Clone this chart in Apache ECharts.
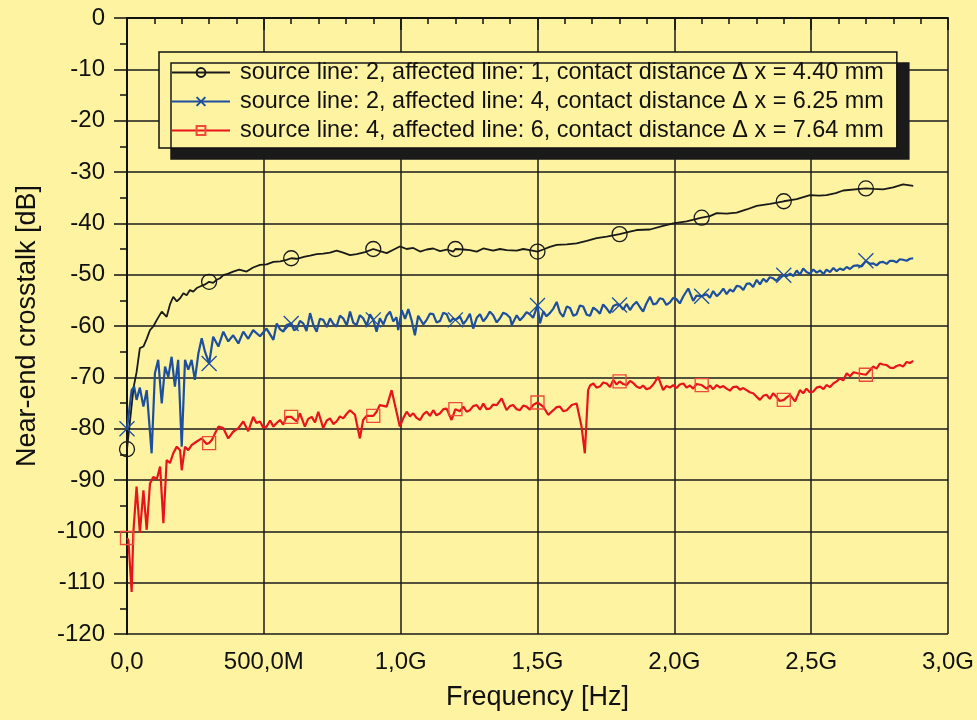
<!DOCTYPE html>
<html>
<head>
<meta charset="utf-8">
<script src="https://cdn.jsdelivr.net/npm/echarts@6/dist/echarts.min.js"></script>
<style>
  html, body { margin: 0; padding: 0; background: #fdf3a0; }
  #chart { width: 977px; height: 720px; }
</style>
</head>
<body>
<div id="chart"></div>
<script>
// frequency in GHz, crosstalk in dB
const xTickLabels = ['0,0', '500,0M', '1,0G', '1,5G', '2,0G', '2,5G', '3,0G'];
const seriesNames = [
  'source line: 2, affected line: 1, contact distance \u0394 x = 4.40 mm',
  'source line: 2, affected line: 4, contact distance \u0394 x = 6.25 mm',
  'source line: 4, affected line: 6, contact distance \u0394 x = 7.64 mm'
];

// marker positions (every 300 MHz)
const markFreqs = [0, 0.3, 0.6, 0.9, 1.2, 1.5, 1.8, 2.1, 2.4, 2.7];
const blackMarks = [-84, -51.4, -46.8, -45.0, -45.0, -45.5, -42.1, -38.9, -35.7, -33.2];
const blueMarks = [-80, -67.3, -59.5, -58.8, -58.8, -56.0, -55.9, -54.2, -50.1, -47.3];
const redMarks = [-101.3, -82.8, -77.7, -77.5, -76.2, -74.9, -70.8, -71.5, -74.4, -69.5];

const blackLine = [
  [0.012, -78], [0.024, -72], [0.035, -69], [0.047, -64.3], [0.060, -64], [0.072, -62.5],
  [0.084, -60.8], [0.096, -60.1], [0.109, -58.8], [0.127, -57.2], [0.145, -58.2], [0.157, -55.8],
  [0.169, -54.3], [0.182, -55.2], [0.194, -54.6], [0.206, -53.6], [0.218, -54], [0.230, -53.0],
  [0.242, -53.3], [0.255, -52.6], [0.267, -52.3], [0.285, -51.9], [0.315, -51.6], [0.328, -51],
  [0.340, -50.7], [0.352, -50.1], [0.370, -49.8], [0.388, -49.4], [0.410, -49.0], [0.437, -49.4],
  [0.461, -48.6], [0.486, -48.1], [0.510, -48.0], [0.535, -47.5], [0.560, -47.4], [0.583, -47.1],
  [0.620, -46.9], [0.650, -46.5], [0.669, -46.3], [0.693, -46], [0.717, -45.9], [0.742, -45.7],
  [0.766, -45.3], [0.790, -45.7], [0.815, -46.2], [0.839, -46.0], [0.870, -45.6], [0.924, -45.4],
  [0.949, -45.8], [0.975, -45.1], [0.997, -44.5], [1.022, -45.0], [1.046, -44.8], [1.071, -45.5],
  [1.095, -45.1], [1.119, -44.9], [1.144, -45.4], [1.168, -45.1], [1.192, -45.5], [1.229, -45.1],
  [1.253, -45.2], [1.278, -45.5], [1.302, -44.9], [1.338, -45.3], [1.363, -45.0], [1.387, -45.2],
  [1.424, -45.3], [1.448, -45.0], [1.472, -45.2], [1.521, -45.1], [1.545, -44.6], [1.570, -44.2],
  [1.607, -44.1], [1.643, -43.9], [1.680, -43.4], [1.716, -42.9], [1.753, -42.6], [1.838, -41.6],
  [1.862, -41.3], [1.911, -41.2], [1.959, -40.5], [1.996, -40], [2.045, -39.6], [2.130, -38.6],
  [2.155, -38], [2.191, -38.1], [2.228, -37.9], [2.264, -37.3], [2.301, -36.6], [2.350, -36.2],
  [2.447, -35.3], [2.496, -34.5], [2.530, -34.6], [2.556, -34.5], [2.590, -34.1], [2.617, -33.6],
  [2.727, -33.3], [2.763, -33.4], [2.800, -33.0], [2.836, -32.4], [2.873, -32.7]
];

const blueLine = [
  [0.017, -72.5], [0.026, -71.8], [0.035, -74.4], [0.047, -72], [0.060, -75.7], [0.072, -72.5],
  [0.090, -84.8], [0.102, -69.2], [0.114, -66.6], [0.127, -75.1], [0.139, -67.9], [0.151, -69.9],
  [0.163, -66], [0.175, -71.8], [0.187, -66.6], [0.200, -83.5], [0.212, -66.6], [0.224, -68.5],
  [0.236, -66.6], [0.248, -70.5], [0.261, -65.3], [0.273, -62.4], [0.285, -65], [0.315, -62.1],
  [0.334, -64], [0.352, -61.1], [0.370, -63], [0.388, -61.8], [0.407, -63.4], [0.425, -61.1],
  [0.443, -62.5], [0.461, -60.8], [0.486, -62], [0.510, -60.5], [0.535, -62.7], [0.547, -59.5],
  [0.559, -60.6], [0.571, -61.1], [0.583, -59.8], [0.610, -60.8], [0.620, -60.6], [0.632, -59.0],
  [0.644, -59.5], [0.656, -61.0], [0.669, -57.5], [0.681, -59.8], [0.693, -61.1], [0.705, -58.6],
  [0.717, -58.8], [0.730, -60.2], [0.742, -58.5], [0.754, -59.6], [0.766, -60.1], [0.778, -58.0],
  [0.790, -58.5], [0.803, -59.9], [0.815, -57.2], [0.827, -59.4], [0.839, -59.8], [0.851, -57.9],
  [0.863, -58.5], [0.876, -59.9], [0.888, -57.7], [0.912, -61.1], [0.924, -58.5], [0.937, -59.7],
  [0.949, -58.0], [0.961, -57.2], [0.973, -59.1], [0.985, -58.3], [0.991, -60.8], [1.004, -56.9],
  [1.016, -58.6], [1.028, -56.7], [1.040, -58.9], [1.052, -61.8], [1.064, -58.0], [1.071, -58.2],
  [1.083, -59.7], [1.095, -58.8], [1.107, -57.6], [1.119, -57.7], [1.131, -59.3], [1.144, -59],
  [1.156, -57.4], [1.168, -57.7], [1.180, -59.2], [1.192, -58.5], [1.217, -58.2], [1.229, -59.6],
  [1.241, -58.8], [1.253, -57.6], [1.265, -60.5], [1.278, -58.4], [1.290, -57.7], [1.302, -59.1],
  [1.314, -58.3], [1.326, -57.2], [1.338, -57.9], [1.351, -59.3], [1.363, -58.5], [1.375, -57.4],
  [1.387, -57.7], [1.400, -58.4], [1.406, -59.8], [1.424, -57.9], [1.436, -58.9], [1.448, -58.2],
  [1.460, -57.3], [1.472, -57.7], [1.484, -58.4], [1.509, -59.5], [1.521, -57.2], [1.533, -58.1],
  [1.545, -57.5], [1.558, -56.6], [1.570, -55.3], [1.582, -57.4], [1.594, -58.2], [1.607, -56.2],
  [1.619, -56.5], [1.631, -58.0], [1.643, -57.7], [1.655, -56.0], [1.667, -56.2], [1.680, -57.8],
  [1.692, -58], [1.704, -56.4], [1.716, -56.9], [1.728, -57.6], [1.740, -55.8], [1.753, -56.6],
  [1.765, -57.5], [1.777, -56.1], [1.789, -55.8], [1.813, -56.8], [1.826, -55.7], [1.838, -56.9],
  [1.850, -55.9], [1.862, -55.3], [1.874, -56.3], [1.886, -57.2], [1.898, -55.6], [1.911, -54.3],
  [1.923, -55.8], [1.935, -55.6], [1.947, -54.6], [1.959, -54.8], [1.971, -55.9], [1.984, -55.4],
  [1.996, -54.5], [2.008, -54.8], [2.020, -55.6], [2.033, -54.2], [2.051, -52.7], [2.069, -55.1],
  [2.081, -54.1], [2.118, -53.8], [2.130, -54.5], [2.142, -53.2], [2.155, -54.2], [2.167, -53.6],
  [2.179, -52.7], [2.191, -53.8], [2.203, -52.9], [2.215, -53.3], [2.228, -52.2], [2.240, -52.3],
  [2.252, -53.0], [2.264, -51.8], [2.276, -51.7], [2.288, -52.4], [2.301, -51], [2.313, -51.9],
  [2.325, -50.8], [2.337, -51.4], [2.349, -50.5], [2.361, -50.7], [2.373, -51.2], [2.385, -50.4],
  [2.411, -50.3], [2.423, -49.8], [2.435, -50.3], [2.447, -49.2], [2.459, -50.0], [2.471, -48.8],
  [2.483, -49.5], [2.496, -49.8], [2.508, -49.0], [2.520, -49.6], [2.533, -49.2], [2.545, -49.9],
  [2.556, -49.0], [2.569, -49.5], [2.581, -48.7], [2.593, -49.3], [2.605, -48.8], [2.617, -49.1],
  [2.630, -48.5], [2.642, -48.9], [2.655, -48.3], [2.669, -48.2], [2.685, -48.4], [2.715, -47.9],
  [2.727, -47.8], [2.739, -48.2], [2.751, -47.6], [2.763, -47.5], [2.776, -47.9], [2.788, -47.3],
  [2.800, -47.3], [2.812, -47.6], [2.824, -47.0], [2.836, -47.1], [2.849, -47.3], [2.861, -46.9],
  [2.873, -46.8]
];

const redLine = [
  [0.005, -101.7], [0.017, -111.8], [0.023, -100.4], [0.035, -91.3], [0.047, -100.3], [0.060, -92],
  [0.072, -99.7], [0.084, -90.7], [0.096, -89.4], [0.109, -89.8], [0.121, -87.4], [0.133, -98.4],
  [0.145, -86.1], [0.157, -86.7], [0.169, -84.8], [0.182, -83.5], [0.194, -84.2], [0.200, -88.1],
  [0.212, -83.5], [0.224, -84.2], [0.236, -83.2], [0.255, -82.5], [0.273, -81.9], [0.291, -83],
  [0.310, -82.2], [0.322, -80.9], [0.334, -79.6], [0.352, -79.9], [0.370, -81.9], [0.388, -80.6],
  [0.407, -79.9], [0.425, -78.6], [0.443, -80.5], [0.461, -77.7], [0.473, -78.9], [0.486, -78.6],
  [0.498, -79.8], [0.510, -79.6], [0.523, -78.4], [0.535, -79.6], [0.547, -78.9], [0.559, -78.3],
  [0.571, -79.2], [0.583, -77.7], [0.620, -78.6], [0.632, -77], [0.650, -79.6], [0.662, -78.1],
  [0.675, -77.7], [0.687, -78.8], [0.699, -76.7], [0.717, -79.9], [0.730, -78.4], [0.742, -78],
  [0.754, -79.1], [0.766, -78.6], [0.778, -77.6], [0.790, -78], [0.803, -77.1], [0.815, -76.4],
  [0.833, -77.3], [0.851, -81.9], [0.863, -78.3], [0.876, -77.5], [0.912, -76.7], [0.924, -75.4],
  [0.949, -75.7], [0.967, -72.5], [0.997, -79.6], [1.010, -77.9], [1.022, -76.7], [1.034, -77.6],
  [1.046, -77], [1.058, -77.9], [1.071, -78.3], [1.083, -77.2], [1.095, -76.7], [1.107, -77.5],
  [1.119, -76.4], [1.131, -77.4], [1.144, -77], [1.156, -76.2], [1.168, -76.1], [1.186, -78.3],
  [1.217, -76.6], [1.229, -75.7], [1.241, -76.7], [1.253, -76.4], [1.265, -75.6], [1.278, -75.4],
  [1.290, -76.3], [1.302, -75.1], [1.314, -76.2], [1.326, -76.1], [1.338, -75.3], [1.351, -75.4],
  [1.369, -74.1], [1.387, -76.4], [1.399, -75.6], [1.411, -75.4], [1.424, -76.2], [1.436, -76.4],
  [1.448, -75.5], [1.460, -75.7], [1.472, -76.3], [1.484, -75.4], [1.521, -75.7], [1.539, -77.3],
  [1.558, -76.4], [1.570, -75.8], [1.582, -75.7], [1.594, -76.6], [1.607, -76.4], [1.625, -75.4],
  [1.643, -75.1], [1.661, -79.6], [1.673, -84.8], [1.685, -72.5], [1.692, -71.6], [1.704, -71.2],
  [1.716, -72.0], [1.728, -71.8], [1.740, -71.0], [1.753, -71.2], [1.765, -71.9], [1.777, -70.5],
  [1.789, -71.4], [1.813, -71.3], [1.826, -71.5], [1.838, -70.7], [1.850, -71.1], [1.862, -71.8],
  [1.874, -72.1], [1.886, -71.6], [1.898, -72.3], [1.911, -72.1], [1.923, -71.4], [1.941, -69.9],
  [1.959, -72.5], [1.971, -71.7], [1.984, -72.0], [1.996, -71.5], [2.008, -72.1], [2.020, -71.4],
  [2.033, -71.2], [2.045, -72.0], [2.057, -71.6], [2.069, -72.2], [2.081, -71.3], [2.118, -72.2],
  [2.130, -71.6], [2.142, -72.3], [2.155, -71.5], [2.167, -72.0], [2.179, -71.7], [2.191, -72.2],
  [2.203, -72.6], [2.215, -71.9], [2.228, -71.8], [2.240, -72.4], [2.252, -72.1], [2.264, -72.5],
  [2.276, -72.9], [2.288, -73.1], [2.301, -73.8], [2.313, -74.4], [2.325, -73.6], [2.337, -73.4],
  [2.349, -74.2], [2.361, -73.1], [2.373, -73.8], [2.385, -74.6], [2.411, -73.9], [2.423, -73.4],
  [2.441, -74.7], [2.459, -72.5], [2.471, -73.1], [2.483, -72.2], [2.495, -72.9], [2.507, -72.8],
  [2.520, -72.0], [2.533, -71.8], [2.545, -72.3], [2.556, -71.5], [2.569, -71.9], [2.581, -71.2],
  [2.593, -70.8], [2.605, -70.2], [2.617, -70.6], [2.630, -69.2], [2.642, -69.8], [2.655, -69.0],
  [2.669, -69.2], [2.715, -68.6], [2.727, -67.9], [2.739, -68.3], [2.751, -67.3], [2.763, -67.5],
  [2.776, -67.6], [2.788, -68.1], [2.800, -68.2], [2.812, -67.8], [2.824, -67.6], [2.836, -67.9],
  [2.849, -67], [2.861, -67.2], [2.873, -66.8]
];

const bgColor = '#fdf3a0';
const fontFamily = '"Liberation Sans", Arial, Helvetica, sans-serif';

// merge line points with marker points, markers get the symbol
function buildData(line, marks) {
  const pts = line.map(p => ({ value: p, symbol: 'none' }));
  marks.forEach((v, i) => pts.push({ value: [markFreqs[i], v] }));
  pts.sort((a, b) => a.value[0] - b.value[0]);
  return pts;
}

function makeSeries(name, line, marks, color, markColor, width, symbol, size) {
  return {
    name: name,
    type: 'line',
    data: buildData(line, marks),
    symbol: symbol,
    symbolSize: size,
    showAllSymbol: true,
    lineStyle: { color: color, width: width },
    itemStyle: { color: 'rgba(0,0,0,0)', borderColor: markColor, borderWidth: 1.3 },
    emphasis: { disabled: true },
    animation: false
  };
}

const chart = echarts.init(document.getElementById('chart'), null, { renderer: 'canvas' });

const option = {
  backgroundColor: bgColor,
  animation: false,
  textStyle: { fontFamily: fontFamily },
  grid: { left: 127, right: 29, top: 18, bottom: 86 },
  legend: {
    orient: 'vertical',
    left: 159,
    top: 52,
    align: 'left',
    data: seriesNames,
    itemWidth: 58,
    itemHeight: 11,
    itemGap: 6,
    padding: [9, 13, 6, 12],
    backgroundColor: bgColor,
    borderColor: '#111',
    borderWidth: 1.5,
    shadowColor: '#1a1a1a',
    shadowBlur: 0,
    shadowOffsetX: 12,
    shadowOffsetY: 11,
    selectedMode: false,
    textStyle: {
      color: '#111',
      fontSize: 23.4,
      lineHeight: 22,
      fontFamily: fontFamily,
      padding: [0, 0, 0, 5]
    }
  },
  xAxis: {
    type: 'value',
    min: 0,
    max: 3,
    interval: 0.5,
    name: 'Frequency [Hz]',
    nameLocation: 'middle',
    nameGap: 50,
    nameTextStyle: { color: '#111', fontSize: 27, fontFamily: fontFamily },
    axisLine: { show: true, lineStyle: { color: '#111', width: 2 } },
    axisTick: { show: true, length: 12, lineStyle: { color: '#111', width: 1.5 } },
    minorTick: { show: true, splitNumber: 5, length: 6, lineStyle: { color: '#111', width: 1.5 } },
    splitLine: { show: true, lineStyle: { color: '#1a1a1a', width: 1.5 } },
    axisLabel: {
      color: '#111',
      fontSize: 24,
      margin: 16,
      fontFamily: fontFamily,
      formatter: v => xTickLabels[Math.round(v / 0.5)]
    }
  },
  yAxis: {
    type: 'value',
    min: -120,
    max: 0,
    interval: 10,
    name: 'Near-end crosstalk [dB]',
    nameLocation: 'middle',
    nameGap: 86,
    nameTextStyle: { color: '#111', fontSize: 27, fontFamily: fontFamily },
    axisLine: { show: true, lineStyle: { color: '#111', width: 2 } },
    axisTick: { show: true, length: 13, lineStyle: { color: '#111', width: 1.5 } },
    minorTick: { show: true, splitNumber: 2, length: 7, lineStyle: { color: '#111', width: 1.5 } },
    splitLine: { show: true, lineStyle: { color: '#1a1a1a', width: 1.5 } },
    axisLabel: { color: '#111', fontSize: 24, margin: 22, fontFamily: fontFamily }
  },
  series: [
    makeSeries(seriesNames[0], blackLine, blackMarks, '#1a1a1a', '#1a1a1a', 1.8, 'circle', 15),
    makeSeries(seriesNames[1], blueLine, blueMarks, '#1d4f9e', '#1d4f9e', 2.2,
      'path://M0,0L10,10M10,0L0,10', 15),
    makeSeries(seriesNames[2], redLine, redMarks, '#e8141c', '#ee4a3a', 2.2, 'rect', 13)
  ]
};

chart.setOption(option);
</script>
</body>
</html>
